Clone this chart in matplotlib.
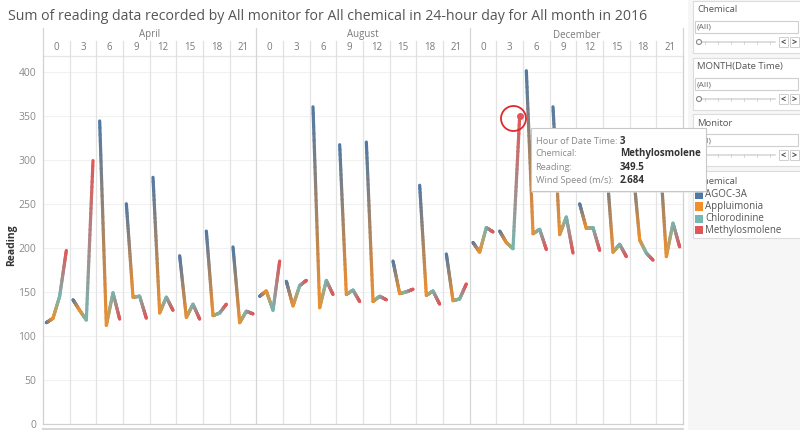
import numpy as np
import matplotlib
matplotlib.use("Agg")
import matplotlib.pyplot as plt
from matplotlib.collections import LineCollection
from matplotlib.patches import Rectangle, Ellipse
from matplotlib.lines import Line2D
from matplotlib.colors import to_rgb

# ---------------- data ----------------
months = ["April", "August", "December"]
hours = [0, 3, 6, 9, 12, 15, 18, 21]
chemicals = ["AGOC-3A", "Appluimonia", "Chlorodinine", "Methylosmolene"]
agoc = [115, 141, 344, 250, 280, 191, 219, 201,
        145, 162, 360, 317, 320, 185, 271, 193,
        206, 219, 401, 360, 250, 295, 290, 310]
appluimonia = [120, 129, 112, 144, 126, 121, 123, 115,
               151, 134, 132, 147, 139, 148, 146, 140,
               195, 206, 216, 215, 222, 195, 209, 190]
chlorodinine = [145, 118, 149, 145, 144, 136, 126, 128,
                129, 157, 163, 152, 145, 150, 151, 142,
                223, 199, 221, 235, 223, 204, 194, 228]
methylosmolene = [197, 299, 119, 120, 129, 119, 136, 125,
                  185, 163, 147, 139, 141, 153, 136, 159,
                  218, 349.5, 198, 194, 197, 190, 186, 201]
series = [agoc, appluimonia, chlorodinine, methylosmolene]
colors = ["#4e79a7", "#f28e2b", "#76b7b2", "#e15759"]
yticks = list(range(0, 401, 50))
title = "Sum of reading data recorded by All monitor for All chemical in 24-hour day for All month in 2016"
tip_labels = ["Hour of Date Time:", "Chemical:", "Reading:", "Wind Speed (m/s):"]
tip_values = ["3", "Methylosmolene", "349.5", "2.684"]
filters = ["Chemical", "MONTH(Date Time)", "Monitor"]

FONT = ["Open Sans", "DejaVu Sans"]
plt.rcParams["font.family"] = FONT

W, H = 800, 430
fig = plt.figure(figsize=(W / 100, H / 100), dpi=100)
fig.patch.set_facecolor("white")


def fx(x):
    return x / W


def fy(y):
    return 1 - y / H


def T(x, y, s, **kw):
    kw.setdefault("va", "center")
    return fig.text(fx(x), fy(y), s, **kw)


def hline(x0, x1, y, **kw):
    fig.add_artist(Line2D([fx(x0), fx(x1)], [fy(y), fy(y)], transform=fig.transFigure, **kw))


def vline(x, y0, y1, **kw):
    fig.add_artist(Line2D([fx(x), fx(x)], [fy(y0), fy(y1)], transform=fig.transFigure, **kw))


def rect(x, y, w, h, **kw):
    r = Rectangle((fx(x), fy(y + h)), w / W, h / H, transform=fig.transFigure, **kw)
    fig.add_artist(r)
    return r


# ---------------- main axes ----------------
L, R, TOP, BOT = 43, 683, 56, 424
PXU = 0.881
ax = fig.add_axes([fx(L), fy(BOT), (R - L) / W, (BOT - TOP) / H])
ncell = len(months) * len(hours)
nchem = len(chemicals)
ax.set_xlim(0, ncell)
ax.set_ylim(0, (BOT - TOP) / PXU)

for yv in yticks[1:]:
    ax.axhline(yv, color="#f1f1f1", lw=0.8, zorder=0)
for i in range(1, ncell):
    c = "#d6d6d6" if i % len(hours) == 0 else "#e3e3e3"
    ax.axvline(i, color=c, lw=0.9, zorder=0)

rgb = [np.array(to_rgb(c)) for c in colors]
segs, cols = [], []
nsub = 30
for cell in range(ncell):
    xs = [cell + (k + 0.5) / nchem for k in range(nchem)]
    vs = [series[k][cell] for k in range(nchem)]
    for k in range(nchem - 1):
        t = np.linspace(0, 1, nsub + 1)
        px = xs[k] + (xs[k + 1] - xs[k]) * t
        py = vs[k] + (vs[k + 1] - vs[k]) * t
        for j in range(nsub):
            segs.append([(px[j], py[j]), (px[j + 1], py[j + 1])])
            m = (j + 0.5) / nsub
            cols.append(rgb[k] * (1 - m) + rgb[k + 1] * m)
lc = LineCollection(segs, colors=cols, linewidths=2.3, capstyle="round", zorder=3)
ax.add_collection(lc)

# highlighted point
hcell = 2 * len(hours) + 1
ax.plot(hcell + 3.5 / nchem, methylosmolene[hcell], "o", ms=4, color=colors[3], zorder=4)

ax.set_yticks(yticks)
ax.set_xticks([])
ax.tick_params(axis="y", length=0, pad=5, labelsize=7.5, labelcolor="#8a8a8a")
for s in ["top", "right", "left", "bottom"]:
    ax.spines[s].set_color("#d0d0d0")
    ax.spines[s].set_linewidth(0.9)
ax.spines["top"].set_color("#e6e6e6")

T(12, 245, "Reading", rotation=90, ha="center", fontsize=7.5, color="#333333", fontweight="bold")

# ---------------- title & header ----------------
T(8, 17, title, ha="left", fontsize=10.2, color="#555555")
cw = (R - L) / ncell
for mi, mname in enumerate(months):
    x0 = L + mi * len(hours) * cw
    T(x0 + len(hours) * cw / 2, 35, mname, ha="center", fontsize=7, color="#7a7a7a")
    vline(x0, 28, TOP, color="#d6d6d6", lw=0.9)
    for hi, h in enumerate(hours):
        xc = x0 + (hi + 0.5) * cw
        T(xc, 47.5, str(h), ha="center", fontsize=7, color="#7a7a7a")
        if hi > 0:
            vline(x0 + hi * cw, 41, TOP, color="#e0e0e0", lw=0.9)
vline(R, 28, TOP, color="#d6d6d6", lw=0.9)
hline(L, R, 429, color="#d8d8d8", lw=1.5)

# ---------------- right panel ----------------
rect(688, 0, 112, 430, facecolor="#f6f6f6", edgecolor="none", zorder=1)
card_y = [0, 57, 113]
for fname, cy in zip(filters, card_y):
    rect(692.5, cy + 1, 110, 52, facecolor="white", edgecolor="#dcdcdc", lw=0.8, zorder=2)
    T(697, cy + 10, fname, ha="left", fontsize=6.8, color="#555555", zorder=3)
    rect(694.5, cy + 21, 103, 12, facecolor="white", edgecolor="#cfcfcf", lw=0.8, zorder=3)
    T(697, cy + 27.5, "(All)", ha="left", fontsize=6.1, color="#666666", zorder=4)
    hline(698, 775, cy + 42, color="#d8d8d8", lw=1.2, zorder=3)
    for tx in np.linspace(705, 770, 6):
        vline(tx, cy + 40.5, cy + 43.5, color="#d0d0d0", lw=0.6, zorder=3)
    fig.add_artist(Ellipse((fx(699), fy(cy + 42)), 5 / W, 5 / H, transform=fig.transFigure,
                           facecolor="white", edgecolor="#888888", lw=0.8, zorder=4))
    for bx, sym in [(779, "<"), (789.5, ">")]:
        rect(bx, cy + 37, 9, 10, facecolor="white", edgecolor="#cfcfcf", lw=0.7, zorder=3)
        T(bx + 4.5, cy + 42, sym, ha="center", fontsize=6.5, color="#444444", zorder=4,
          fontweight="bold")

rect(692.5, 171, 110, 67, facecolor="white", edgecolor="#dcdcdc", lw=0.8, zorder=2)
T(697, 181, "Chemical", ha="left", fontsize=6.8, color="#555555", zorder=3)
for i, (cname, c) in enumerate(zip(chemicals, colors)):
    yy = 194.5 + i * 12
    rect(694.5, yy - 4, 8, 8, facecolor=c, edgecolor="none", zorder=3)
    T(705, yy, cname, ha="left", fontsize=7, color="#555555", zorder=3)

# ---------------- tooltip ----------------
rect(532, 130, 175, 63, facecolor="#e6e6e6", edgecolor="none", zorder=9, alpha=0.6)
rect(530.5, 128, 175, 63, facecolor="white", edgecolor="#c8c8c8", lw=0.8, zorder=10)
for i, (lab, val) in enumerate(zip(tip_labels, tip_values)):
    yy = 141 + i * 13
    T(535.5, yy, lab, ha="left", fontsize=6.7, color="#8a8a8a", zorder=11)
    T(620, yy, val, ha="left", fontsize=7, color="#333333", zorder=11, fontweight="bold")

fig.add_artist(Ellipse((fx(513.5), fy(118.5)), 25 / W, 25 / H, transform=fig.transFigure,
                       facecolor="none", edgecolor="#e0292c", lw=1.3, zorder=8))

fig.savefig("out.png", dpi=100)
